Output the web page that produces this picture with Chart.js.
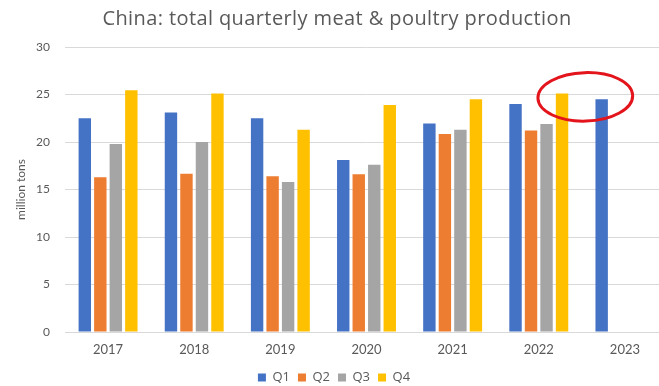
<!DOCTYPE html>
<html>
<head>
<meta charset="utf-8">
<script src="https://cdn.jsdelivr.net/npm/chart.js@4/dist/chart.umd.min.js"></script>
<style>
  html, body { margin: 0; padding: 0; background: #fff; overflow: hidden; }
  #wrap { position: relative; width: 668px; height: 386px; }
</style>
</head>
<body>
<div id="wrap"><canvas id="meatChart"></canvas></div>
<script>
const years = ['2017', '2018', '2019', '2020', '2021', '2022', '2023'];
const q1 = [22.5, 23.1, 22.5, 18.1, 21.95, 24.0, 24.5];
const q2 = [16.3, 16.65, 16.4, 16.6, 20.85, 21.2, null];
const q3 = [19.8, 20.0, 15.8, 17.6, 21.3, 21.9, null];
const q4 = [25.45, 25.1, 21.3, 23.9, 24.5, 25.1, null];
const yTicks = [0, 5, 10, 15, 20, 25, 30];
const titleText = 'China: total quarterly meat & poultry production';

// red ring drawn around the last two quarters (category index / value units)
const ring = { x: 5.54, y: 24.75, rx: 0.55, ry: 2.55 };

const textCol = '#595959';
const fontFam = 'Lato, "Open Sans", sans-serif';
const wideFam = '"Open Sans", sans-serif';

// the canvas is a bit wider than the page, so place the title by hand
const titlePlugin = {
    id: 'pageTitle',
    afterDraw(chart) {
        const ctx = chart.ctx;
        ctx.save();
        ctx.font = '20px ' + wideFam;
        ctx.letterSpacing = '0.4px';
        ctx.fillStyle = textCol;
        ctx.textAlign = 'center';
        ctx.textBaseline = 'middle';
        ctx.fillText(titleText, 337, 19);
        ctx.restore();
    }
};

const ringPlugin = {
    id: 'ring',
    afterDatasetsDraw(chart) {
        const xs = chart.scales.x, ys = chart.scales.y;
        const cx = xs.getPixelForValue(ring.x);
        const cy = ys.getPixelForValue(ring.y);
        const rx = Math.abs(xs.getPixelForValue(ring.x + ring.rx) - cx);
        const ry = Math.abs(ys.getPixelForValue(ring.y + ring.ry) - cy);
        const ctx = chart.ctx;
        ctx.save();
        ctx.beginPath();
        ctx.ellipse(cx, cy, rx, ry, -0.03, 0, Math.PI * 2);
        ctx.strokeStyle = '#e3141b';
        ctx.lineWidth = 3;
        ctx.stroke();
        ctx.restore();
    }
};

const ds = (label, data, color) => ({
    label, data, backgroundColor: color, borderWidth: 0,
    barPercentage: 0.8, categoryPercentage: 0.72
});

new Chart(document.getElementById('meatChart'), {
    type: 'bar',
    data: {
        labels: years,
        datasets: [
            ds('Q1', q1, '#4472c4'),
            ds('Q2', q2, '#ed7d31'),
            ds('Q3', q3, '#a5a5a5'),
            ds('Q4', q4, '#ffc000')
        ]
    },
    plugins: [ringPlugin, titlePlugin],
    options: {
        responsive: true,
        maintainAspectRatio: false,
        animation: false,
        layout: { padding: { left: 0, right: 0, top: 47, bottom: -8 } },
        scales: {
            x: {
                afterFit: s => { s.height = 31; },
                grid: { display: false },
                border: { color: '#d9d9d9' },
                ticks: { color: textCol, font: { family: fontFam, size: 13 }, padding: 2 }
            },
            y: {
                min: 0, max: 30,
                afterBuildTicks: s => { s.ticks = yTicks.map(v => ({ value: v })); },
                afterFit: s => { s.width = 65; },
                grid: { color: '#d9d9d9', drawTicks: false },
                border: { display: false },
                ticks: { color: textCol, font: { family: fontFam, size: 12 }, padding: 15 },
                title: {
                    display: true, text: 'million tons', color: textCol,
                    font: { family: fontFam, size: 12 }, padding: { top: 14, bottom: 0 }
                }
            }
        },
        plugins: {
            title: { display: false },
            legend: {
                position: 'bottom',
                labels: {
                    color: textCol, boxWidth: 8, boxHeight: 8, padding: 8,
                    font: { family: wideFam, size: 13 }
                }
            },
            tooltip: { enabled: false }
        }
    }
});
</script>
</body>
</html>
